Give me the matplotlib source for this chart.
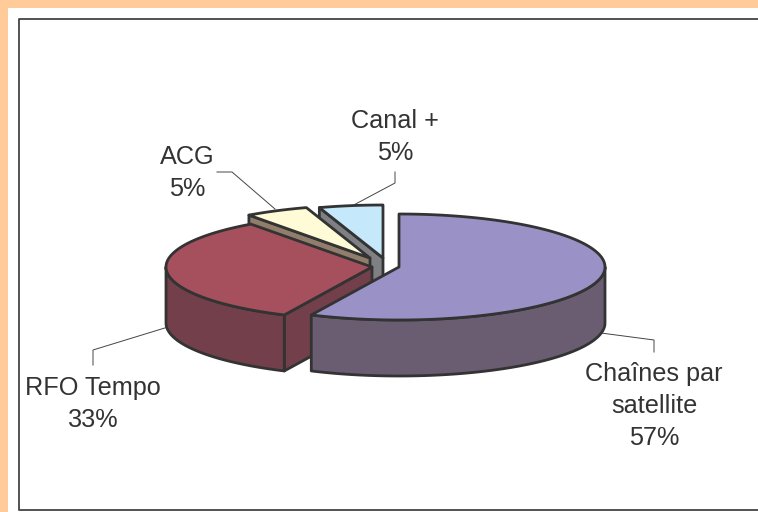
import matplotlib
matplotlib.use("Agg")
import matplotlib.pyplot as plt
from matplotlib.patches import Polygon, Rectangle
import numpy as np

# data
labels = ["Chaînes par\nsatellite", "RFO Tempo", "ACG", "Canal +"]
shares = [57, 33, 5, 5]

# look of each slice
top_colors = ["#9A91C6", "#A6505E", "#FFFBD6", "#C5E8FA"]
side_colors = ["#6A5D72", "#733F4A", "#917D6B", "#7F8084"]
centers = [(399, 267), (372, 267), (370, 258), (383, 258)]
label_pos = [(654, 405), (93, 403), (187, 172), (395, 136)]
leaders = [
    [(654, 352), (654, 340), (601, 333)],
    [(93, 365), (93, 350), (168, 327)],
    [(217, 172), (232, 172), (275, 209)],
    [(395, 172), (395, 183), (350, 207)],
]

rx = 206
ry = 53
depth = 56
edge = "#333333"

plt.rcParams['font.family'] = ['Liberation Sans', 'DejaVu Sans']

fig = plt.figure(figsize=(7.58, 5.12), dpi=100, facecolor="white")
ax = fig.add_axes([0, 0, 1, 1])
ax.set_xlim(0, 758)
ax.set_ylim(512, 0)
ax.axis("off")

# page border and chart frame
ax.add_patch(Rectangle((0, 0), 758, 8, color="#FFCC99", lw=0))
ax.add_patch(Rectangle((0, 0), 8, 512, color="#FFCC99", lw=0))
ax.plot([760, 18.5, 18.5, 760], [18.5, 18.5, 509.5, 509.5], color="#444444", lw=1.3)


def rim(c, a):
    a = np.radians(a)
    return c[0] + rx * np.cos(a), c[1] - ry * np.sin(a)


def draw_poly(pts, color, z):
    ax.add_patch(Polygon(pts, closed=True, facecolor=color, edgecolor=edge,
                         lw=2.0, joinstyle="round", zorder=z))


# slices run clockwise from the top of the pie
stops = 90 - 3.6 * np.cumsum([0] + shares)
order = [3, 2, 1, 0]
z = 3
for i in order:
    hi, lo = stops[i], stops[i + 1]
    c = centers[i]

    # cut faces looking at the viewer
    for a, normal in [(hi, hi + 90), (lo, lo - 90)]:
        if np.sin(np.radians(normal)) < -1e-6:
            x, y = rim(c, a)
            draw_poly([c, (x, y), (x, y + depth), (c[0], c[1] + depth)], side_colors[i], z)
            z += 1

    # outer wall, only the front half of the rim
    a0, a1 = max(lo, -180), min(hi, 0)
    if a1 > a0:
        t = np.linspace(a0, a1, 80)
        px, py = rim(c, t)
        pts = np.r_[np.c_[px, py], np.c_[px, py + depth][::-1]]
        draw_poly(pts, side_colors[i], z)
        z += 1

    # top
    t = np.linspace(lo, hi, 120)
    px, py = rim(c, t)
    draw_poly(np.r_[[c], np.c_[px, py]], top_colors[i], z)
    z += 1

for pts in leaders:
    xs, ys = zip(*pts)
    ax.plot(xs, ys, color="#444444", lw=0.7, zorder=2)

for lab, s, (x, y) in zip(labels, shares, label_pos):
    ax.text(x, y + 1, f"{lab}\n{s}%", ha="center", va="center", fontsize=18.2,
            color="#333333", linespacing=1.42, zorder=20)

fig.savefig("out.png", dpi=100, facecolor="white")
